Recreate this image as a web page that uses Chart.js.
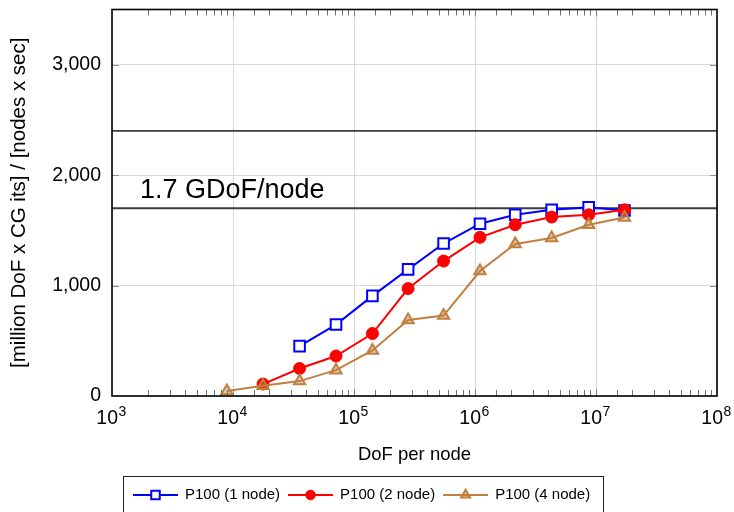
<!DOCTYPE html>
<html>
<head>
<meta charset="utf-8">
<script src="https://cdn.jsdelivr.net/npm/chart.js@4/dist/chart.umd.min.js"></script>
<style>
  html, body { margin: 0; padding: 0; background: #fff; }
  #wrap { width: 734px; height: 512px; }
</style>
</head>
<body>
<div id="wrap"><canvas id="c" width="734" height="512"></canvas></div>
<script>
"use strict";

// ---------------------------------------------------------------------------
// Data
// ---------------------------------------------------------------------------
const dofPerNode = [8.9e3, 1.77e4, 3.55e4, 7.1e4, 1.42e5, 2.8e5, 5.5e5, 1.1e6, 2.15e6, 4.3e6, 8.7e6, 1.72e7];

// throughput [million DoF x CG its] / [nodes x sec]; each series starts at a later dof index
const p100n1 = [452, 647, 907, 1147, 1381, 1560, 1641, 1686, 1709, 1680];
const p100n2 = [108, 249, 362, 566, 973, 1222, 1437, 1551, 1620, 1641, 1686];
const p100n4 = [45, 93, 135, 234, 413, 689, 728, 1132, 1377, 1431, 1551, 1617];

const seriesNames = ["P100 (1 node)", "P100 (2 node)", "P100 (4 node)"];
const refLevels = [1700, 2400];
const refLabel = "1.7 GDoF/node";

const xTitle = "DoF per node";
const yTitle = "[million DoF x CG its] / [nodes x sec]";
const xRange = [1e3, 1e8];
const yRange = [0, 3500];
const yTicks = [0, 1000, 2000, 3000];

const FONT = "'Liberation Sans', Arial, Helvetica, sans-serif";
const COL = { blue: "#0000ff", red: "#ff0000", brown: "#bf8040", grid: "#d9d9d9", ref: "#3c3c3c" };
const TICK_SIZE = 19.5;
const EXP_SIZE = 14;
const SPACER = "\u2002"; // room for the exponent, drawn separately

// pair a series with the tail of the dof list
function pts(vals) {
  const off = dofPerNode.length - vals.length;
  return vals.map((y, i) => ({ x: dofPerNode[off + i], y }));
}
const isDecade = (v) => Math.abs(Math.log10(v) - Math.round(Math.log10(v))) < 1e-9;

// ---------------------------------------------------------------------------
// Plugins: frame + inner ticks, exponents, reference label, legend box
// ---------------------------------------------------------------------------
const framePlugin = {
  id: "frame",
  afterDatasetsDraw(chart) {
    const { ctx, chartArea: a, scales: { x, y } } = chart;
    ctx.save();
    ctx.lineWidth = 1;
    x.ticks.forEach((t) => {
      if (t.value <= xRange[0] || t.value >= xRange[1]) return;
      const px = Math.round(x.getPixelForValue(t.value)) + 0.5;
      const len = isDecade(t.value) ? 7 : 6;
      ctx.strokeStyle = isDecade(t.value) ? "#808080" : "#707070";
      ctx.beginPath();
      ctx.moveTo(px, a.bottom); ctx.lineTo(px, a.bottom - len);
      ctx.moveTo(px, a.top); ctx.lineTo(px, a.top + len);
      ctx.stroke();
    });
    ctx.strokeStyle = "#909090";
    y.ticks.forEach((t) => {
      if (t.value <= yRange[0]) return;
      const py = Math.round(y.getPixelForValue(t.value)) + 0.5;
      ctx.beginPath();
      ctx.moveTo(a.left, py); ctx.lineTo(a.left + 7, py);
      ctx.moveTo(a.right, py); ctx.lineTo(a.right - 7, py);
      ctx.stroke();
    });
    ctx.strokeStyle = "#000";
    ctx.lineWidth = 1.6;
    ctx.strokeRect(a.left, a.top, a.right - a.left, a.bottom - a.top);
    ctx.restore();
  },
};

// superscript exponents of the "10" tick labels
const exponentPlugin = {
  id: "exponents",
  afterDraw(chart) {
    const { ctx, chartArea: a, scales: { x } } = chart;
    ctx.save();
    x.ticks.forEach((t) => {
      if (!isDecade(t.value)) return;
      ctx.font = TICK_SIZE + "px " + FONT;
      const wBase = ctx.measureText("10").width;
      const wAll = ctx.measureText("10" + SPACER).width;
      const px = x.getPixelForValue(t.value) - wAll / 2 + wBase + 0.5;
      ctx.font = EXP_SIZE + "px " + FONT;
      ctx.fillStyle = "#000";
      ctx.textAlign = "left";
      ctx.textBaseline = "alphabetic";
      ctx.fillText(String(Math.round(Math.log10(t.value))), px, a.bottom + 20);
    });
    ctx.restore();
  },
};

const refLabelPlugin = {
  id: "refLabel",
  afterDatasetsDraw(chart) {
    const { ctx, scales: { x, y } } = chart;
    ctx.save();
    ctx.font = "27px " + FONT;
    ctx.fillStyle = "#000";
    ctx.textBaseline = "alphabetic";
    ctx.textAlign = "left";
    ctx.fillText(refLabel, x.getPixelForValue(1.7e3), y.getPixelForValue(refLevels[0]) - 10);
    ctx.restore();
  },
};

const legendPlugin = {
  id: "boxLegend",
  afterDraw(chart) {
    const { ctx } = chart;
    const sets = chart.data.datasets.filter((d) => d.label);
    ctx.save();
    ctx.strokeStyle = "#222";
    ctx.lineWidth = 1;
    ctx.strokeRect(123.5, 476.5, 480, 40);
    ctx.font = "15px " + FONT;
    ctx.textBaseline = "middle";
    const cy = 495;
    let cx = 133;
    sets.forEach((d) => {
      ctx.strokeStyle = d.borderColor;
      ctx.lineWidth = 2;
      ctx.beginPath();
      ctx.moveTo(cx, cy); ctx.lineTo(cx + 45, cy);
      ctx.stroke();
      ctx.fillStyle = d.pointBackgroundColor;
      ctx.strokeStyle = d.borderColor;
      ctx.lineWidth = d.pointBorderWidth;
      Chart.helpers.drawPoint(ctx, {
        pointStyle: d.pointStyle, radius: d.pointRadius * 0.8,
        borderWidth: d.pointBorderWidth, rotation: 0,
      }, cx + 22.5, cy);
      ctx.fillStyle = "#000";
      ctx.fillText(d.label, cx + 52, cy);
      cx += 52 + ctx.measureText(d.label).width + 8;
    });
    ctx.restore();
  },
};

// ---------------------------------------------------------------------------
// Chart
// ---------------------------------------------------------------------------
Chart.defaults.font.family = FONT;
Chart.defaults.color = "#000";

const refSets = refLevels.map((lvl) => ({
  data: [{ x: xRange[0], y: lvl }, { x: xRange[1], y: lvl }],
  borderColor: COL.ref, borderWidth: 1.8, pointRadius: 0, showLine: true, order: 10,
}));

const series = [
  { label: seriesNames[0], data: pts(p100n1), borderColor: COL.blue,
    pointStyle: "rect", pointRadius: 7.5, pointBackgroundColor: "#fff", pointBorderWidth: 2 },
  { label: seriesNames[1], data: pts(p100n2), borderColor: COL.red,
    pointStyle: "circle", pointRadius: 6, pointBackgroundColor: COL.red, pointBorderWidth: 1 },
  { label: seriesNames[2], data: pts(p100n4), borderColor: COL.brown,
    pointStyle: "triangle", pointRadius: 6.5, pointBackgroundColor: "rgba(191,128,64,0.45)", pointBorderWidth: 2 },
].map((s, i) => Object.assign({
  showLine: true, borderWidth: 2, pointBorderColor: s.borderColor,
  pointHoverRadius: s.pointRadius, order: 3 - i,
}, s));

new Chart(document.getElementById("c"), {
  type: "scatter",
  data: { datasets: [...refSets, ...series] },
  options: {
    responsive: false, animation: false,
    layout: { padding: { left: 0, top: 4.5, right: 17, bottom: 0 } },
    plugins: { legend: { display: false }, tooltip: { enabled: false } },
    scales: {
      x: {
        type: "logarithmic", min: xRange[0], max: xRange[1],
        afterFit: (s) => { s.height = 116; s.paddingLeft = 0; s.paddingRight = 0; },
        border: { display: false },
        grid: {
          drawTicks: false,
          color: (c) => (c.tick && isDecade(c.tick.value) ? COL.grid : "rgba(0,0,0,0)"),
        },
        ticks: {
          autoSkip: false, maxRotation: 0, padding: 11,
          font: { size: TICK_SIZE },
          callback: (v) => (isDecade(v) ? "10" + SPACER : ""),
        },
        title: { display: true, text: xTitle, font: { size: 18.5 }, padding: { top: 0, bottom: 46 } },
      },
      y: {
        min: yRange[0], max: yRange[1],
        afterBuildTicks: (s) => { s.ticks = yTicks.map((value) => ({ value })); },
        afterFit: (s) => { s.width = 112; s.paddingTop = 0; s.paddingBottom = 0; },
        border: { display: false },
        grid: { drawTicks: false, color: COL.grid },
        ticks: {
          padding: 11, font: { size: TICK_SIZE },
          callback: (v) => v.toLocaleString("en-US"),
        },
        title: { display: true, text: yTitle, font: { size: 20.5 }, padding: { top: 7, bottom: 0 } },
      },
    },
  },
  plugins: [framePlugin, exponentPlugin, refLabelPlugin, legendPlugin],
});
</script>
</body>
</html>
